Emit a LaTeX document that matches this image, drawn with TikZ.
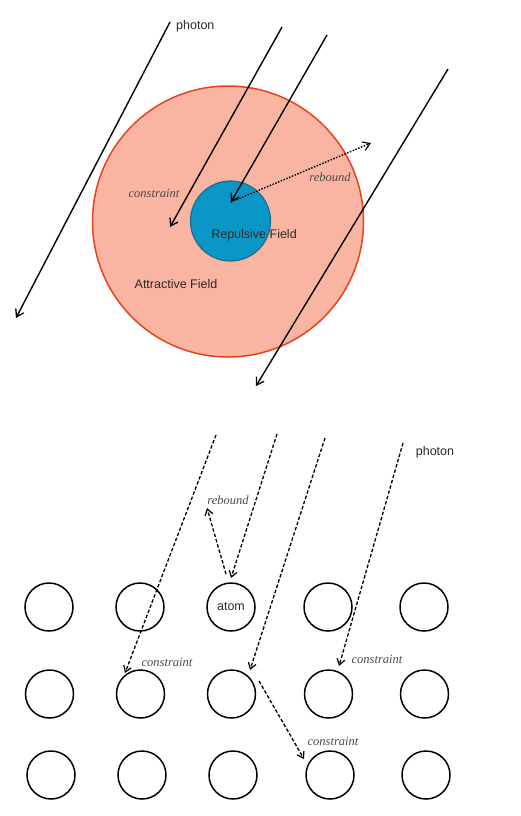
\documentclass[tikz,border=0pt]{standalone}
\usepackage{fontspec}
\setmainfont{Liberation Serif}
\setsansfont{Liberation Sans}
\usetikzlibrary{arrows.meta}
\definecolor{attrfill}{HTML}{F9B5A1}
\definecolor{attrline}{HTML}{E8421C}
\definecolor{repfill}{HTML}{0A97C6}
\definecolor{repline}{HTML}{1D6C93}
\definecolor{txt}{HTML}{2A2A2A}
\tikzset{
  photonline/.style={line width=1.4pt, -{Straight Barb[length=7pt,width=9pt,line width=1.3pt]}},
  dashphoton/.style={line width=1.3pt, dash pattern=on 3.5pt off 2pt, -{Straight Barb[length=6pt,width=8pt,line width=1.2pt]}},
  dotphoton/.style={line width=1.4pt, dash pattern=on 1.5pt off 1.5pt, -{Straight Barb[length=7pt,width=9pt,line width=1.2pt]}},
  atombox/.style={circle, draw, line width=1.5pt, minimum size=48pt, inner sep=0pt},
  sanslabel/.style={font=\sffamily\fontsize{12.5}{14}\selectfont, text=txt, inner sep=0pt},
  itlabel/.style={font=\itshape\fontsize{12.5}{14}\selectfont, text=txt!85, inner sep=0pt},
}
\begin{document}
\begin{tikzpicture}[x=1pt,y=-1pt]
\useasboundingbox (0,0) rectangle (520,816);
% ---------- top diagram ----------
\node[circle, fill=attrfill, draw=attrline, line width=1.5pt, minimum size=271pt, inner sep=0pt] (attr) at (228,221.5) {};
\node[circle, fill=repfill, draw=repline, line width=1.2pt, minimum size=80pt, inner sep=0pt] (rep) at (230.5,221) {};
\node[sanslabel] (replab) at (254,235) {Repulsive Field};
\node[sanslabel] (attrlab) at (176,284) {Attractive Field};
\node[sanslabel, anchor=west] (photonA) at (176,26) {photon};
\node[itlabel] (conA) at (154,193) {constraint};
\node[itlabel] (rebA) at (330,177) {rebound};

\coordinate (p1s) at (170,22);  \coordinate (p1e) at (16,318);
\coordinate (p2s) at (282,27);  \coordinate (p2e) at (170,227);
\coordinate (p3s) at (327,35);  \coordinate (p3e) at (231,202);
\coordinate (p4s) at (448,69);  \coordinate (p4e) at (256,386);
\coordinate (rbe) at (371,143);
\draw[photonline] (p1s) -- (p1e);
\draw[photonline] (p2s) -- (p2e);
\draw[photonline] (p3s) -- (p3e);
\draw[photonline] (p4s) -- (p4e);
\draw[dotphoton] (p3e) -- (rbe);

% ---------- bottom diagram ----------
\foreach \c/\x in {1/49,2/140,3/231,4/328,5/424}{
  \node[atombox] (a1\c) at (\x,607) {};
  \node[atombox] (a2\c) at (\x+0.5,694) {};
  \node[atombox] (a3\c) at (\x+2,775) {};
}
\node[sanslabel] (atomlab) at (a13) {atom};
\node[sanslabel] (photonB) at (435,452) {photon};
\node[itlabel] (rebB) at (228,500) {rebound};
\node[itlabel] (conB1) at (167,662) {constraint};
\node[itlabel] (conB2) at (377,659) {constraint};
\node[itlabel] (conB3) at (333,741) {constraint};

\coordinate (d1s) at (216,435); \coordinate (d1e) at (125,673);
\coordinate (d2s) at (277,434); \coordinate (d2e) at (231,578);
\coordinate (rbs) at (226,574); \coordinate (rbt) at (207,508);
\coordinate (d3s) at (325,438); \coordinate (d3e) at (250,670);
\coordinate (d4s) at (403,443); \coordinate (d4e) at (339,666);
\coordinate (d5s) at (259,681); \coordinate (d5e) at (304,759);
\draw[dashphoton] (d1s) -- (d1e);
\draw[dashphoton] (d2s) -- (d2e);
\draw[dashphoton] (rbs) -- (rbt);
\draw[dashphoton] (d3s) -- (d3e);
\draw[dashphoton] (d4s) -- (d4e);
\draw[dashphoton] (d5s) -- (d5e);
\end{tikzpicture}
\end{document}
